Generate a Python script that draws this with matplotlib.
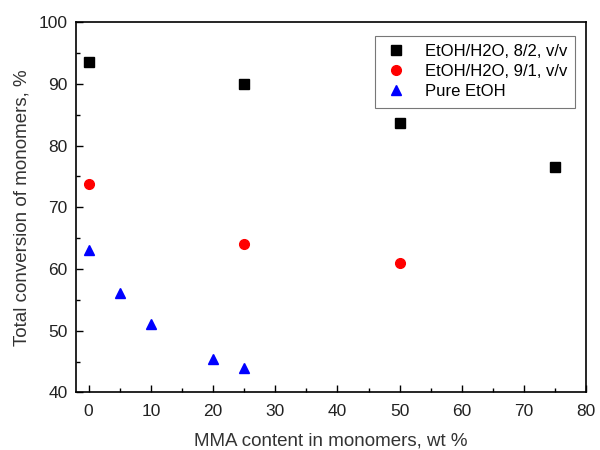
import matplotlib
matplotlib.use("Agg")
import matplotlib.pyplot as plt
from matplotlib.ticker import MultipleLocator

plt.rcParams['font.family'] = ['Liberation Sans', 'DejaVu Sans']

# data
x_82 = [0, 25, 50, 75]
y_82 = [93.5, 90.0, 83.7, 76.5]

x_91 = [0, 25, 50]
y_91 = [73.7, 64.0, 61.0]

x_pure = [0, 5, 10, 20, 25]
y_pure = [63.0, 56.1, 51.1, 45.4, 44.0]

labels = ["EtOH/H2O, 8/2, v/v", "EtOH/H2O, 9/1, v/v", "Pure EtOH"]

fig = plt.figure(figsize=(6, 4.5), dpi=100)
ax = fig.add_axes([0.127, 0.128, 0.85, 0.823])

ax.plot(x_82, y_82, 's', color='black', markersize=6.5, label=labels[0])
ax.plot(x_91, y_91, 'o', color='red', markersize=7, label=labels[1])
ax.plot(x_pure, y_pure, '^', color='blue', markersize=7.5, label=labels[2])

ax.set_xlim(-2, 80)
ax.set_ylim(40, 100)
ax.xaxis.set_major_locator(MultipleLocator(10))
ax.xaxis.set_minor_locator(MultipleLocator(5))
ax.yaxis.set_major_locator(MultipleLocator(10))
ax.yaxis.set_minor_locator(MultipleLocator(5))
ax.tick_params(which='both', direction='in', top=False, right=False,
               labelsize=12.5, labelcolor='#222222')
ax.tick_params(which='major', length=5, width=1)
ax.tick_params(which='minor', length=3, width=1)
ax.tick_params(axis='x', pad=8)
ax.tick_params(axis='y', pad=6)
for s in ax.spines.values():
    s.set_linewidth(1.2)

ax.set_xlabel("MMA content in monomers, wt %", fontsize=13.5, color='#333333', labelpad=10)
ax.set_ylabel("Total conversion of monomers, %", fontsize=13.5, color='#333333', labelpad=6)

leg = ax.legend(loc='upper right', fontsize=12, frameon=True, fancybox=False,
                edgecolor='#555555', handletextpad=0.9, borderpad=0.5,
                labelspacing=0.3, handlelength=1.6, bbox_to_anchor=(0.995, 0.985))
leg.get_frame().set_linewidth(0.8)

fig.savefig("out.png", dpi=100)
